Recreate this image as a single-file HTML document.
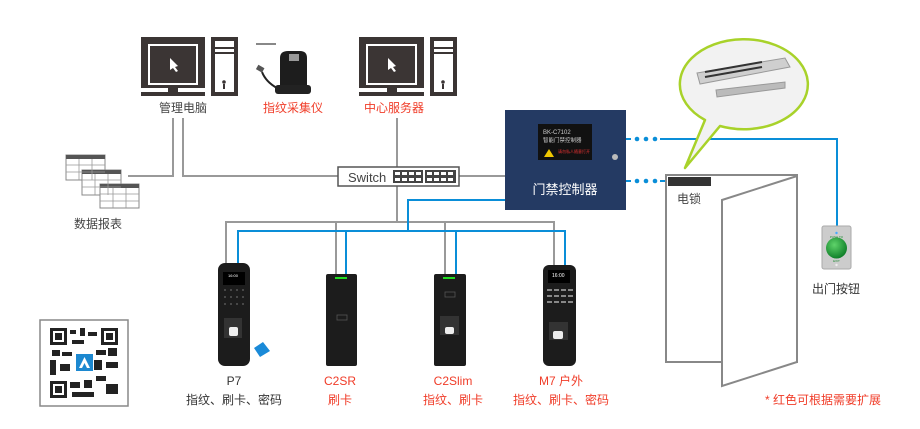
<!DOCTYPE html>
<html><head><meta charset="utf-8"><style>
html,body{margin:0;padding:0;background:#fff;width:920px;height:429px;overflow:hidden}
text{font-family:"Liberation Sans","Noto Sans CJK SC",sans-serif}
</style></head><body>
<svg width="920" height="429" viewBox="0 0 920 429" xmlns="http://www.w3.org/2000/svg">
<defs><radialGradient id="gb" cx="0.4" cy="0.35" r="0.7"><stop offset="0" stop-color="#5fd36a"/><stop offset="1" stop-color="#0b7a25"/></radialGradient></defs>
<!-- gray wiring -->
<g fill="none" stroke="#999" stroke-width="2">
<path d="M173 118V176H128"/>
<path d="M183 118V176H338"/>
<path d="M397 118V167"/>
<path d="M459 176H505"/>
<path d="M397 186V222"/>
<path d="M226 264V222H554V265"/>
<path d="M336 274V222M445 274V222"/>
<path d="M256 44H276" stroke="#888"/>
</g>
<!-- blue wiring -->
<g fill="none" stroke="#0a8ed8" stroke-width="2">
<path d="M505 200H408V231"/>
<path d="M238 264V231H565V265"/>
<path d="M346 274V231M456 274V231"/>
<path d="M626 139H631M660 139H837V226"/>
<path d="M626 181H631M660 181H668"/>
</g>
<g fill="#0a8ed8"><circle cx="637" cy="139" r="2.3"/><circle cx="646" cy="139" r="2.3"/><circle cx="655" cy="139" r="2.3"/><circle cx="637" cy="181" r="2.3"/><circle cx="646" cy="181" r="2.3"/><circle cx="655" cy="181" r="2.3"/></g>

<!-- PCs -->
<g fill="#3b3534">
<rect x="141" y="37" width="64" height="51"/><rect x="168" y="88" width="10" height="5"/><rect x="141" y="92" width="64" height="4"/>
<rect x="211" y="37" width="27" height="59"/>
<rect x="359" y="37" width="65" height="51"/><rect x="387" y="88" width="10" height="5"/><rect x="359" y="92" width="65" height="4"/>
<rect x="430" y="37" width="27" height="59"/>
</g>
<g fill="#fff">
<rect x="149" y="45" width="48" height="39" fill="#3b3534" stroke="#fff" stroke-width="2"/>
<rect x="215" y="41" width="19" height="51"/>
<rect x="367" y="45" width="49" height="39" fill="#3b3534" stroke="#fff" stroke-width="2"/>
<rect x="434" y="41" width="19" height="51"/>
</g>
<g fill="#3b3534"><rect x="215" y="47" width="19" height="2"/><rect x="215" y="52" width="19" height="2"/><circle cx="224" cy="82" r="1.8"/><rect x="223" y="84" width="2" height="5"/>
<rect x="434" y="47" width="19" height="2"/><rect x="434" y="52" width="19" height="2"/><circle cx="443" cy="82" r="1.8"/><rect x="442" y="84" width="2" height="5"/></g>
<path d="M170 58l8 8-3 1 3 4-2 1-3-4-3 2z" fill="#fff"/>
<path d="M388 58l8 8-3 1 3 4-2 1-3-4-3 2z" fill="#fff"/>
<!-- fingerprint scanner -->
<path d="M280 88 L280 58 Q280 51 288 51 L300 51 Q307 51 307 58 L307 88Z" fill="#1d1d1d"/>
<rect x="275" y="85" width="36" height="9" rx="3" fill="#222"/>
<rect x="289" y="54" width="10" height="7" fill="#999"/>
<path d="M277 88 Q266 82 262 72" stroke="#222" stroke-width="2" fill="none"/>
<rect x="257" y="66" width="7" height="5" fill="#555" transform="rotate(30 260 68)"/>
<text x="183" y="112" font-size="12" fill="#444" text-anchor="middle">管理电脑</text>
<text x="293" y="112" font-size="12" fill="#f03c28" text-anchor="middle">指纹采集仪</text>
<text x="394" y="112" font-size="12" fill="#f03c28" text-anchor="middle">中心服务器</text>

<!-- switch -->
<rect x="338" y="167" width="121" height="19" fill="#fff" stroke="#555" stroke-width="1.5"/>
<text x="348" y="182" font-size="13" fill="#444">Switch</text>
<rect x="393" y="170" width="30" height="13" fill="#444"/><rect x="425" y="170" width="31" height="13" fill="#444"/>
<g fill="#fff"><rect x="395" y="172" width="5" height="3"/><rect x="402" y="172" width="5" height="3"/><rect x="409" y="172" width="5" height="3"/><rect x="416" y="172" width="5" height="3"/>
<rect x="395" y="178" width="5" height="3"/><rect x="402" y="178" width="5" height="3"/><rect x="409" y="178" width="5" height="3"/><rect x="416" y="178" width="5" height="3"/>
<rect x="427" y="172" width="5" height="3"/><rect x="434" y="172" width="5" height="3"/><rect x="441" y="172" width="5" height="3"/><rect x="448" y="172" width="5" height="3"/>
<rect x="427" y="178" width="5" height="3"/><rect x="434" y="178" width="5" height="3"/><rect x="441" y="178" width="5" height="3"/><rect x="448" y="178" width="5" height="3"/></g>

<!-- controller -->
<rect x="505" y="110" width="121" height="100" fill="#243a63"/>
<rect x="538" y="124" width="54" height="36" fill="#111"/>
<text x="543" y="134" font-size="6" fill="#ccc">BK-C7102</text>
<text x="543" y="142" font-size="5.5" fill="#ccc">智能门禁控制器</text>
<path d="M544 157l5-8 5 8z" fill="#f0c800"/>
<text x="558" y="153" font-size="4" fill="#e33">请勿私人随意打开</text>
<circle cx="615" cy="157" r="3" fill="#bbb"/>
<text x="565" y="194" font-size="13" fill="#fff" text-anchor="middle">门禁控制器</text>

<!-- tables -->
<g fill="#fff" stroke="#888" stroke-width="1">
<rect x="66" y="155" width="39" height="25"/><rect x="82" y="170" width="39" height="25"/><rect x="100" y="184" width="39" height="24"/>
</g>
<g fill="#555"><rect x="66" y="155" width="39" height="4"/><rect x="82" y="170" width="39" height="4"/><rect x="100" y="184" width="39" height="4"/></g>
<g stroke="#999" stroke-width="0.8"><path d="M66 165h39M66 172h39M79 159v21M92 159v21M82 180h39M82 187h39M95 174v21M108 174v21M100 194h39M100 201h39M113 188v20M126 188v20"/></g>
<text x="98" y="228" font-size="12" fill="#444" text-anchor="middle">数据报表</text>

<!-- QR -->
<rect x="40" y="320" width="88" height="86" fill="#fff" stroke="#888" stroke-width="1.5"/>
<g fill="#222">
<rect x="50" y="328" width="17" height="17"/><rect x="101" y="328" width="17" height="17"/><rect x="50" y="381" width="17" height="17"/>
<rect x="70" y="330" width="6" height="4"/><rect x="80" y="328" width="5" height="8"/><rect x="88" y="332" width="9" height="4"/><rect x="72" y="340" width="12" height="4"/>
<rect x="52" y="350" width="8" height="6"/><rect x="62" y="352" width="10" height="4"/><rect x="96" y="350" width="10" height="5"/><rect x="108" y="348" width="9" height="8"/>
<rect x="50" y="360" width="6" height="15"/><rect x="60" y="364" width="10" height="7"/><rect x="94" y="360" width="8" height="10"/><rect x="106" y="362" width="12" height="6"/>
<rect x="70" y="382" width="10" height="6"/><rect x="84" y="380" width="8" height="8"/><rect x="96" y="376" width="10" height="5"/><rect x="106" y="384" width="12" height="10"/><rect x="72" y="392" width="22" height="5"/>
</g>
<g fill="#fff"><rect x="53" y="331" width="11" height="11"/><rect x="104" y="331" width="11" height="11"/><rect x="53" y="384" width="11" height="11"/></g>
<g fill="#222"><rect x="55" y="333" width="7" height="7"/><rect x="106" y="333" width="7" height="7"/><rect x="55" y="386" width="7" height="7"/></g>
<rect x="76" y="354" width="17" height="17" fill="#1c88d0"/>
<path d="M79 368l5.5-11 5.5 11h-3l-2.5-5-2.5 5z" fill="#fff"/>

<!-- devices -->
<g fill="#1c1c1c">
<rect x="218" y="263" width="32" height="103" rx="7"/>
<rect x="326" y="274" width="31" height="92" rx="2"/>
<rect x="434" y="274" width="32" height="92" rx="2"/>
<rect x="543" y="265" width="33" height="101" rx="6"/>
</g>
<rect x="223" y="272" width="22" height="13" fill="#000"/><text x="228" y="277" font-size="4" fill="#fff">16:00</text>
<g fill="#555"><circle cx="225" cy="290" r="1"/><circle cx="231" cy="290" r="1"/><circle cx="237" cy="290" r="1"/><circle cx="243" cy="290" r="1"/><circle cx="225" cy="297" r="1"/><circle cx="231" cy="297" r="1"/><circle cx="237" cy="297" r="1"/><circle cx="243" cy="297" r="1"/><circle cx="225" cy="304" r="1"/><circle cx="231" cy="304" r="1"/><circle cx="237" cy="304" r="1"/><circle cx="243" cy="304" r="1"/></g>
<rect x="224" y="318" width="18" height="20" fill="#333"/><rect x="229" y="327" width="9" height="9" rx="2" fill="#eee"/>
<path d="M254 348l9-6 7 9-10 6z" fill="#1a8ad8"/>
<rect x="335" y="277" width="12" height="2" fill="#2d2"/>
<rect x="443" y="277" width="12" height="2" fill="#2d2"/>
<rect x="337" y="315" width="10" height="5" fill="none" stroke="#555" stroke-width="0.8"/>
<rect x="445" y="292" width="10" height="5" fill="none" stroke="#555" stroke-width="0.8"/>
<rect x="440" y="316" width="19" height="19" fill="#333"/><rect x="445" y="327" width="9" height="7" rx="2" fill="#eee"/>
<rect x="548" y="270" width="22" height="13" fill="#000"/><text x="552" y="277" font-size="5" fill="#fff">16:00</text>
<g fill="#888"><rect x="547" y="289" width="5" height="2"/><rect x="554" y="289" width="5" height="2"/><rect x="561" y="289" width="5" height="2"/><rect x="568" y="289" width="5" height="2"/><rect x="547" y="295" width="5" height="2"/><rect x="554" y="295" width="5" height="2"/><rect x="561" y="295" width="5" height="2"/><rect x="568" y="295" width="5" height="2"/><rect x="547" y="301" width="5" height="2"/><rect x="554" y="301" width="5" height="2"/><rect x="561" y="301" width="5" height="2"/><rect x="568" y="301" width="5" height="2"/></g>
<rect x="549" y="322" width="19" height="18" fill="#333"/><rect x="553" y="331" width="10" height="8" rx="2" fill="#eee"/>
<g font-size="12" text-anchor="middle">
<text x="234" y="385" fill="#333">P7</text><text x="234" y="404" fill="#333">指纹、刷卡、密码</text>
<text x="340" y="385" fill="#f03c28">C2SR</text><text x="340" y="404" fill="#f03c28">刷卡</text>
<text x="453" y="385" fill="#f03c28">C2Slim</text><text x="453" y="404" fill="#f03c28">指纹、刷卡</text>
<text x="561" y="385" fill="#f03c28">M7 户外</text><text x="561" y="404" fill="#f03c28">指纹、刷卡、密码</text>
</g>

<!-- bubble -->
<path d="M685 168 L705 120 A64 45 0 1 1 720 126 Z" fill="#f2f2f2" stroke="#a8d22a" stroke-width="2.5" stroke-linejoin="round"/>
<path d="M697 73 L785 58 L790 67 L700 84Z" fill="#cfcfcf" stroke="#999"/>
<path d="M705 72 L762 62 M705 77 L762 67" stroke="#333" stroke-width="2"/>
<path d="M716 90 L785 82 L785 88 L717 97Z" fill="#bbb" stroke="#999"/>

<!-- door -->
<rect x="666" y="175" width="131" height="187" fill="#fff" stroke="#888" stroke-width="2"/>
<polygon points="722,200 797,176 797,362 722,386" fill="#fff" stroke="#888" stroke-width="2"/>
<rect x="668" y="177" width="43" height="9" fill="#333"/>
<text x="677" y="203" font-size="12" fill="#444">电锁</text>

<!-- exit button -->
<rect x="822" y="226" width="29" height="43" rx="2" fill="#ccc" stroke="#aaa"/>
<circle cx="836.5" cy="248" r="10.5" fill="url(#gb)"/>
<text x="836.5" y="238" font-size="3" fill="#1a8a30" text-anchor="middle">PUSH TO</text>
<text x="836.5" y="262" font-size="3" fill="#1a8a30" text-anchor="middle">EXIT</text>
<circle cx="836.5" cy="233" r="1.2" fill="#4af"/><circle cx="836.5" cy="265" r="1.2" fill="#eee"/>
<text x="836" y="293" font-size="12" fill="#333" text-anchor="middle">出门按钮</text>
<text x="765" y="404" font-size="12" fill="#f03c28">* 红色可根据需要扩展</text>
</svg>
</body></html>
